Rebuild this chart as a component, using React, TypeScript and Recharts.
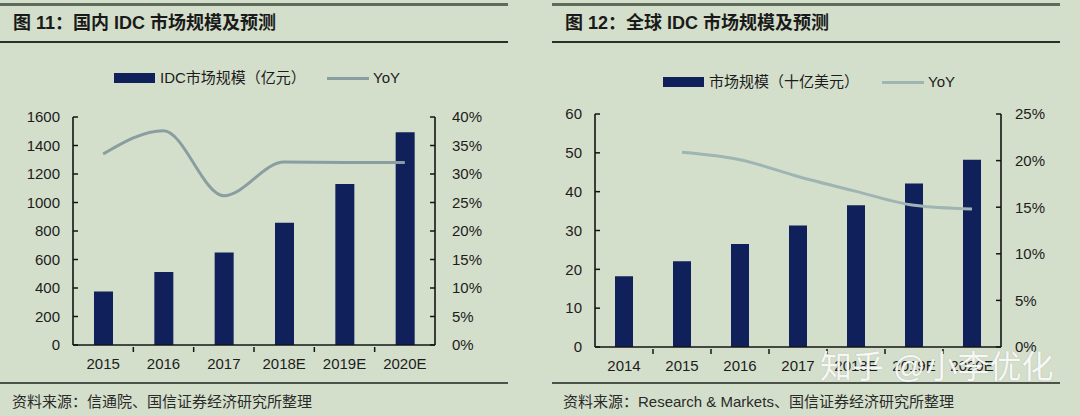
import React from 'react';
import { ComposedChart, Bar, Line, XAxis, YAxis } from 'recharts';

const LEFT_YEARS = ['2015', '2016', '2017', '2018E', '2019E', '2020E'];
const LEFT_SIZE = [375, 513, 650, 858, 1130, 1493];
const LEFT_YOY = [0.335, 0.376, 0.262, 0.321, 0.32, 0.32];
const LEFT_TICKS = [0, 200, 400, 600, 800, 1000, 1200, 1400, 1600];
const LEFT_PCT_TICKS = [0, 0.05, 0.1, 0.15, 0.2, 0.25, 0.3, 0.35, 0.4];

const RIGHT_YEARS = ['2014', '2015', '2016', '2017', '2018E', '2019E', '2020E'];
const RIGHT_SIZE = [18.2, 22.1, 26.5, 31.3, 36.5, 42.1, 48.2];
const RIGHT_YOY: (number | null)[] = [null, 0.209, 0.201, 0.183, 0.167, 0.152, 0.148];
const RIGHT_TICKS = [0, 10, 20, 30, 40, 50, 60];
const RIGHT_PCT_TICKS = [0, 0.05, 0.1, 0.15, 0.2, 0.25];

const BG = '#d4dfcb';
const NAVY = '#10205a';
const AXIS = '#141414';
const TXT = '#1c1c1c';
const SANS = '"Liberation Sans", Arial, sans-serif';
const CJK = '"Noto Sans CJK SC", sans-serif';

const leftData = LEFT_YEARS.map((y, i) => ({ year: y, size: LEFT_SIZE[i], yoy: LEFT_YOY[i] }));
const rightData = RIGHT_YEARS.map((y, i) => ({ year: y, size: RIGHT_SIZE[i], yoy: RIGHT_YOY[i] }));

const pct = (v: number) => `${Math.round(v * 100)}%`;

function makeXTick(step: number, count: number) {
  return (props: any) => {
    const { x, y, payload, index } = props;
    return (
      <g>
        {index < count - 1 && (
          <line x1={x + step / 2} x2={x + step / 2} y1={y - 1} y2={y - 6} stroke={AXIS} strokeWidth={1.5} />
        )}
        <text x={x} y={y + 16} textAnchor="middle" fontFamily={SANS} fontSize={15} fill={TXT}>
          {payload.value}
        </text>
      </g>
    );
  };
}

type PanelProps = {
  left: number;
  data: any[];
  sizeTicks: number[];
  pctTicks: number[];
  sizeMax: number;
  pctMax: number;
  margin: { top: number; right: number; bottom: number; left: number };
  yWidthL: number;
  yWidthR: number;
  barSize: number;
  lineColor: string;
  plotWidth: number;
  lMargin: number;
  rMargin: number;
};

function Panel(p: PanelProps) {
  const n = p.data.length;
  return (
    <div style={{ position: 'absolute', left: p.left, top: 0 }}>
      <ComposedChart width={540} height={416} data={p.data} margin={p.margin}>
        <XAxis
          dataKey="year"
          axisLine={{ stroke: AXIS, strokeWidth: 1.6 }}
          tickLine={false}
          tick={makeXTick(p.plotWidth / n, n)}
          height={30}
          interval={0}
        />
        <YAxis
          yAxisId="l"
          domain={[0, p.sizeMax]}
          ticks={p.sizeTicks}
          width={p.yWidthL}
          axisLine={{ stroke: AXIS, strokeWidth: 1.6 }}
          tickLine={{ stroke: AXIS, strokeWidth: 1.5 }}
          tickSize={-5}
          tickMargin={p.lMargin}
          tick={{ fontFamily: SANS, fontSize: 15, fill: TXT }}
          interval={0}
        />
        <YAxis
          yAxisId="r"
          orientation="right"
          domain={[0, p.pctMax]}
          ticks={p.pctTicks}
          width={p.yWidthR}
          axisLine={{ stroke: AXIS, strokeWidth: 1.6 }}
          tickLine={{ stroke: AXIS, strokeWidth: 1.5 }}
          tickSize={-5}
          tickMargin={p.rMargin}
          tickFormatter={pct}
          tick={{ fontFamily: SANS, fontSize: 15, fill: TXT, textAnchor: 'start' }}
          interval={0}
        />
        <Bar yAxisId="l" dataKey="size" fill={NAVY} barSize={p.barSize} isAnimationActive={false} />
        <Line
          yAxisId="r"
          dataKey="yoy"
          type="monotone"
          stroke={p.lineColor}
          strokeWidth={3}
          dot={false}
          activeDot={false}
          connectNulls={false}
          isAnimationActive={false}
        />
      </ComposedChart>
    </div>
  );
}

function Legend({ x, label, lineX, lineColor, y }: { x: number; label: string; lineX: number; lineColor: string; y: number }) {
  return (
    <>
      <div style={{ position: 'absolute', left: x, top: y - 5, width: 41, height: 10, background: NAVY }} />
      <div style={{ position: 'absolute', left: x + 46, top: y - 10, fontSize: 15, lineHeight: '20px', fontFamily: `${SANS}, ${CJK}`, color: TXT, whiteSpace: 'nowrap' }}>
        {label}
      </div>
      <div style={{ position: 'absolute', left: lineX, top: y - 1.5, width: 42, height: 3, background: lineColor }} />
      <div style={{ position: 'absolute', left: lineX + 46, top: y - 10, fontSize: 15, lineHeight: '20px', fontFamily: SANS, color: TXT }}>
        YoY
      </div>
    </>
  );
}

const rule = (left: number, top: number, width: number, h: number, color: string) => (
  <div style={{ position: 'absolute', left, top, width, height: h, background: color }} />
);

export default function App() {
  return (
    <div style={{ position: 'absolute', left: 0, top: 0, width: 1080, height: 416, background: BG, overflow: 'hidden' }}>
      {rule(0, 3, 508, 3, '#5e6a5a')}
      {rule(0, 41, 508, 2, '#2a2f2a')}
      {rule(0, 382, 508, 2, '#4a524a')}
      {rule(552, 3, 508, 3, '#5e6a5a')}
      {rule(552, 41, 508, 2, '#2a2f2a')}
      {rule(552, 382, 508, 2, '#4a524a')}

      <div style={{ position: 'absolute', left: 13, top: 10, fontSize: 18, lineHeight: '26px', fontWeight: 700, fontFamily: `${SANS}, ${CJK}`, color: '#1a1a1a', whiteSpace: 'nowrap' }}>
        图 11：国内 IDC 市场规模及预测
      </div>
      <div style={{ position: 'absolute', left: 565, top: 10, fontSize: 18, lineHeight: '26px', fontWeight: 700, fontFamily: `${SANS}, ${CJK}`, color: '#1a1a1a', whiteSpace: 'nowrap' }}>
        图 12：全球 IDC 市场规模及预测
      </div>

      <Legend x={114} y={78} label="IDC市场规模（亿元）" lineX={327} lineColor="#8a9ea2" />
      <Legend x={663} y={82} label="市场规模（十亿美元）" lineX={882} lineColor="#9fb5b3" />

      <Panel
        left={0}
        data={leftData}
        sizeTicks={LEFT_TICKS}
        pctTicks={LEFT_PCT_TICKS}
        sizeMax={1600}
        pctMax={0.4}
        margin={{ top: 117, right: 45, bottom: 41, left: 0 }}
        yWidthL={73}
        yWidthR={60}
        barSize={19}
        lineColor="#8a9ea2"
        plotWidth={362}
        lMargin={18}
        rMargin={22}
      />
      <Panel
        left={540}
        data={rightData}
        sizeTicks={RIGHT_TICKS}
        pctTicks={RIGHT_PCT_TICKS}
        sizeMax={60}
        pctMax={0.25}
        margin={{ top: 114, right: 19, bottom: 39, left: 0 }}
        yWidthL={55}
        yWidthR={60}
        barSize={18}
        lineColor="#9fb5b3"
        plotWidth={406}
        lMargin={18}
        rMargin={19}
      />

      <div style={{ position: 'absolute', left: 12, top: 392, fontSize: 15, lineHeight: '20px', fontFamily: `${SANS}, ${CJK}`, color: '#2a2a2a', whiteSpace: 'nowrap' }}>
        资料来源：信通院、国信证券经济研究所整理
      </div>
      <div style={{ position: 'absolute', left: 563, top: 392, fontSize: 15, lineHeight: '20px', fontFamily: `${SANS}, ${CJK}`, color: '#2a2a2a', whiteSpace: 'nowrap' }}>
        资料来源：Research &amp; Markets、国信证券经济研究所整理
      </div>

      <div style={{ position: 'absolute', left: 820, top: 347, fontSize: 32, lineHeight: '40px', fontFamily: `${SANS}, ${CJK}`, color: 'rgba(255,255,255,0.92)', whiteSpace: 'nowrap', textShadow: '0 0 1px rgba(120,120,120,0.5)' }}>
        知乎 @小李优化
      </div>
    </div>
  );
}
